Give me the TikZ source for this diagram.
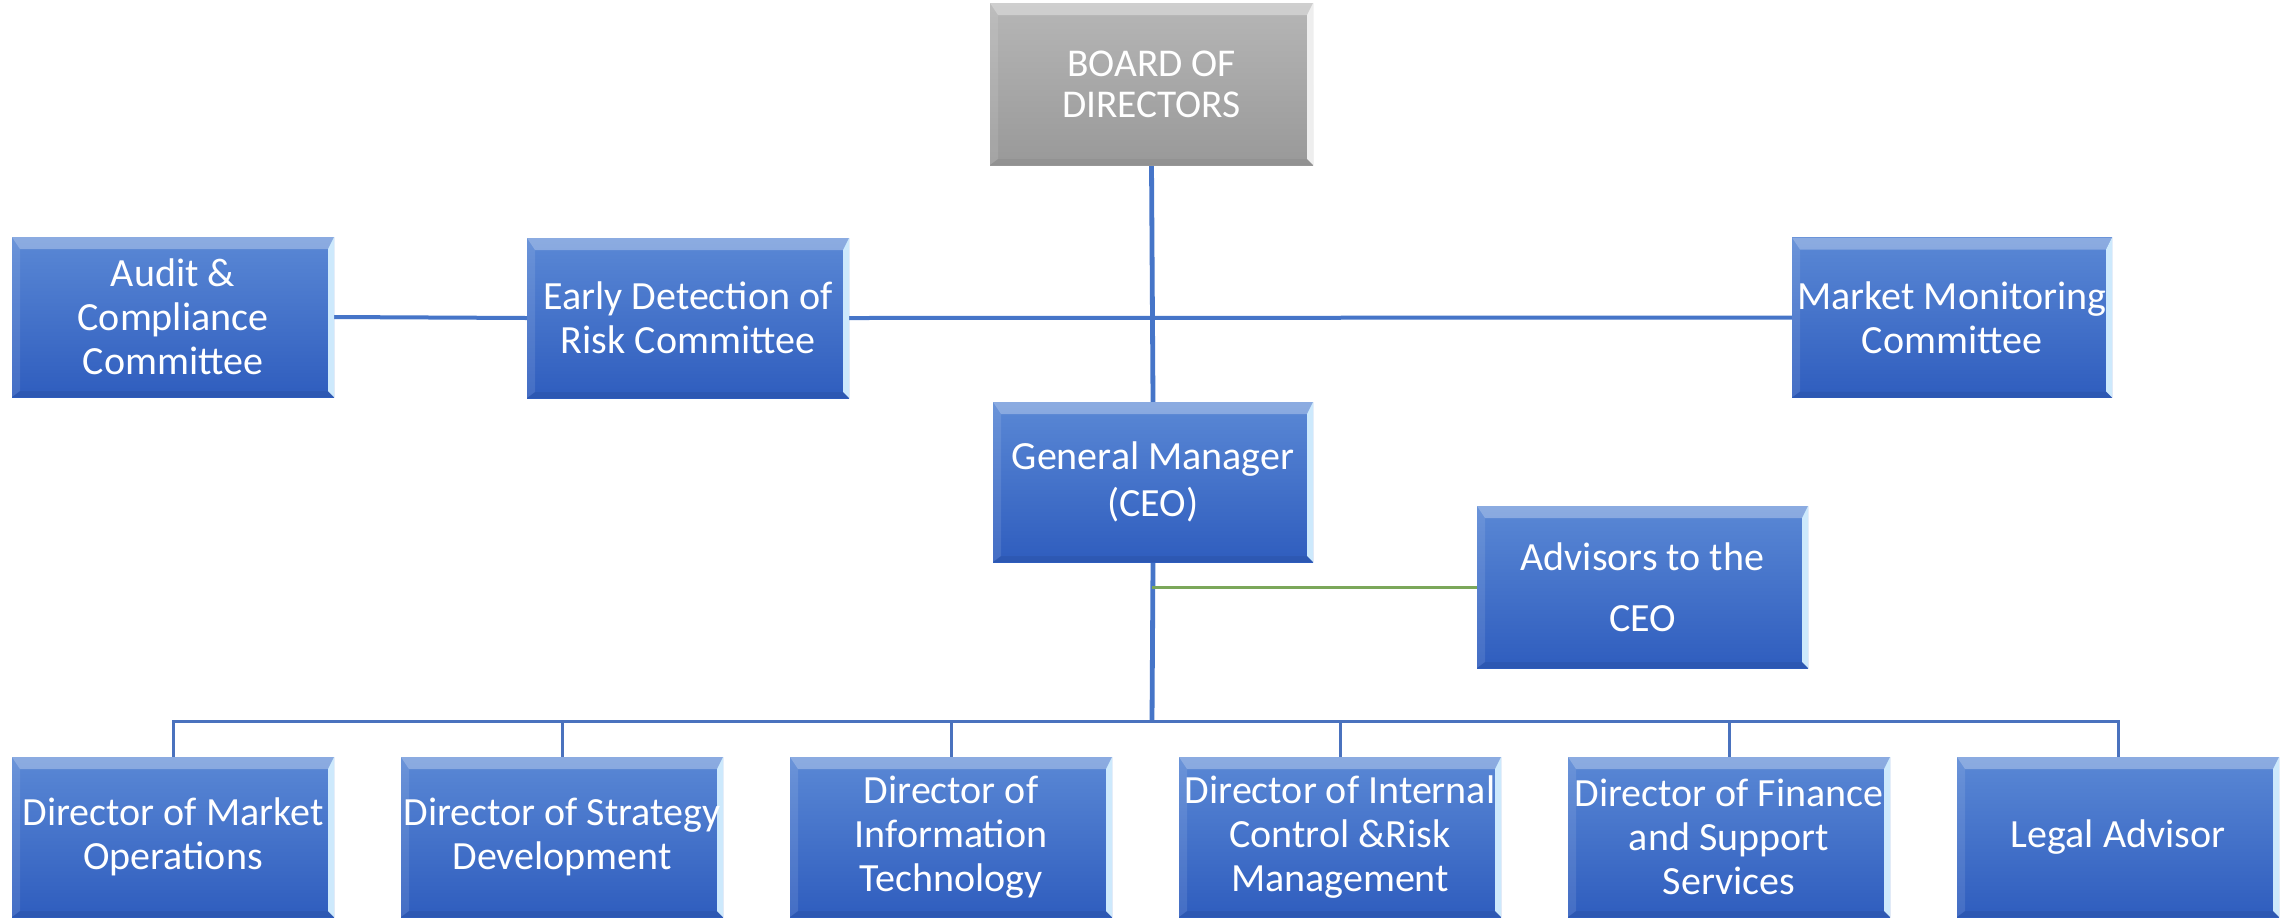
\documentclass[tikz,border=0pt]{standalone}
\usepackage{fontspec}
\setmainfont{Carlito}
\usetikzlibrary{backgrounds,calc}
\definecolor{bluetop}{HTML}{5A88D5}
\definecolor{bluebot}{HTML}{2F5DBE}
\definecolor{graytop}{HTML}{B6B6B6}
\definecolor{graybot}{HTML}{999999}
\definecolor{linkblue}{HTML}{4675C8}
\definecolor{busblue}{HTML}{4A72BE}
\definecolor{linkgreen}{HTML}{7BA75A}
\definecolor{bevelblue}{HTML}{CDE9FC}
\definecolor{bevelgray}{HTML}{EEEEEE}
\tikzset{
  bevel/.style n args={4}{path picture={
    \def\bb{path picture bounding box}
    \fill[#1] (\bb.north west) -- (\bb.north east) -- ([shift={(-3pt,-6pt)}]\bb.north east) -- ([shift={(4pt,-6pt)}]\bb.north west) -- cycle;
    \fill[#2] (\bb.north east) -- (\bb.south east) -- ([shift={(-3pt,3pt)}]\bb.south east) -- ([shift={(-3pt,-6pt)}]\bb.north east) -- cycle;
    \fill[#3] (\bb.north west) -- (\bb.south west) -- ([shift={(4pt,3pt)}]\bb.south west) -- ([shift={(4pt,-6pt)}]\bb.north west) -- cycle;
    \fill[#4] (\bb.south west) -- (\bb.south east) -- ([shift={(-3pt,3pt)}]\bb.south east) -- ([shift={(4pt,3pt)}]\bb.south west) -- cycle;
  }},
  orgbox/.style={rectangle, inner sep=0pt, outer sep=0pt, align=center,
    minimum width=161pt, minimum height=80pt, text=white,
    font=\fontsize{20}{22}\selectfont,
    top color=bluetop, bottom color=bluebot,
    bevel={white,opacity=0.30}{bevelblue}{white,opacity=0.10}{black,opacity=0.06}},
  graybox/.style={orgbox, top color=graytop, bottom color=graybot,
    font=\fontsize{19.7}{20.5}\selectfont,
    bevel={white,opacity=0.35}{bevelgray}{white,opacity=0.10}{black,opacity=0.05}},
  mainlink/.style={draw=linkblue, line width=2.4pt},
  sidelink/.style={draw=linkblue, line width=2pt},
  buslink/.style={draw=busblue, line width=1.5pt},
  greenlink/.style={draw=linkgreen, line width=1.5pt},
}
\begin{document}
\begin{tikzpicture}[x=0.5pt,y=-0.5pt]
\node[graybox, minimum width=161.5pt, minimum height=81pt] (board) at (1151.5,84) {BOARD OF\\DIRECTORS};
\node[orgbox] (audit) at (173,317) {Audit \&\\Compliance\\Committee};
\node[orgbox] (early) at (688,318) {Early Detection of\\Risk Committee};
\node[orgbox, minimum width=160pt] (mm) at (1952,317.5) {Market Monitoring\\Committee};
\node[orgbox, minimum width=160pt] (gm) at (1153,482) {General Manager\\[1.5pt](CEO)};
\node[orgbox, minimum width=165.5pt, minimum height=81pt] (adv) at (1642.5,587) {Advisors to the\\[8.7pt]CEO};
\node[orgbox] (d1) at (173,837) {Director of Market\\Operations};
\node[orgbox] (d2) at (562,837) {Director of Strategy\\Development};
\node[orgbox] (d3) at (951,837) {Director of\\Information\\Technology};
\node[orgbox] (d4) at (1340,837) {Director of Internal\\Control \&Risk\\Management};
\node[orgbox] (d5) at (1729,837) {Director of Finance\\and Support\\Services};
\node[orgbox] (d6) at (2118,837) {Legal Advisor};
\coordinate (bus) at (1152,721);
\begin{pgfonlayer}{background}
\fill[white] (0,0) rectangle (2290,916);
\draw[mainlink] (board.south) -- (gm.north);
\draw[mainlink] (gm.south) -- (bus);
\draw[sidelink] (audit.east) -- (early.west);
\draw[sidelink] (early.east) -- (mm.west);
\draw[greenlink] (adv.west) -- (adv.west -| bus);
\draw[buslink] (d1.north) |- (d6.north |- bus) -- (d6.north);
\foreach \d in {d2,d3,d4,d5} \draw[buslink] (\d.north) -- (\d.north |- bus);
\end{pgfonlayer}
\useasboundingbox (0,0) rectangle (2290,916);
\end{tikzpicture}
\end{document}
